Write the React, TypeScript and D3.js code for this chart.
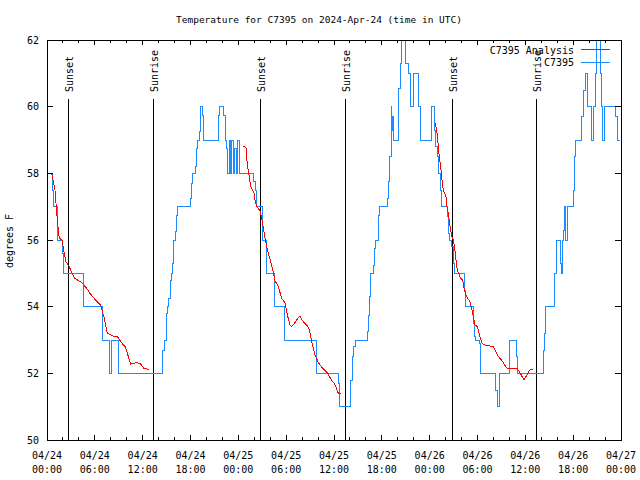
import React from 'react';
import * as d3 from 'd3';

const TITLE = 'Temperature for C7395 on 2024-Apr-24 (time in UTC)';
const Y_LABEL = 'degrees F';
const LEGEND_ANALYSIS = 'C7395 Analysis';
const LEGEND_OBS = 'C7395';

const X_TICK_HOURS = [0, 6, 12, 18, 24, 30, 36, 42, 48, 54, 60, 66, 72];
const X_TICK_DATES = ['04/24', '04/24', '04/24', '04/24', '04/25', '04/25', '04/25', '04/25', '04/26', '04/26', '04/26', '04/26', '04/27'];
const X_TICK_TIMES = ['00:00', '06:00', '12:00', '18:00', '00:00', '06:00', '12:00', '18:00', '00:00', '06:00', '12:00', '18:00', '00:00'];
const X_MINOR_HOURS = [2, 4, 8, 10, 14, 16, 20, 22, 26, 28, 32, 34, 38, 40, 44, 46, 50, 52, 56, 58, 62, 64, 68, 70];
const Y_TICKS = [50, 52, 54, 56, 58, 60, 62];

const SUNSET_HOURS = [2.67, 26.72, 50.82];
const SUNRISE_HOURS = [13.34, 37.42, 61.36];

// Observations (C7395): [hours since 04/24 00:00 UTC, degrees F], step changes
const OBS: [number, number][] = [
  [0, 58], [0.67, 57.5], [0.8, 57], [1.3, 56], [1.9, 55.6], [2.05, 55], [4.56, 54], [6.98, 53],
  [7.9, 52], [8.15, 53], [9.0, 52], [14.46, 52.7], [14.72, 53], [15.0, 53.8], [15.09, 54],
  [15.26, 54.25], [15.43, 54.8], [15.6, 55], [15.76, 55.3], [15.93, 56], [16.1, 56.25],
  [16.26, 56.75], [16.43, 57], [17.94, 57.25], [18.1, 57.7], [18.27, 58], [18.61, 58.2],
  [18.77, 58.75], [18.94, 59], [19.11, 59.25], [19.2, 60], [19.53, 59.75], [19.62, 59],
  [21.49, 59.75], [21.62, 60], [22.2, 59.75], [22.37, 59], [22.55, 58.75], [22.7, 58],
  [22.85, 59], [23.05, 58], [23.2, 59], [23.4, 58], [23.55, 58.75], [23.75, 58], [23.95, 59],
  [24.1, 58], [25.96, 57.75], [26.13, 57.5], [26.3, 57], [26.97, 56], [27.55, 55], [28.56, 54],
  [29.73, 53], [33.83, 52], [36.55, 51.7], [36.67, 51], [38.13, 51.8], [38.3, 52.5], [38.5, 52.8],
  [38.68, 53], [40.18, 53.25], [40.3, 53.75], [40.43, 54.3], [40.55, 55], [40.93, 55.25],
  [41.05, 55.75], [41.18, 56], [41.56, 56.75], [41.68, 57], [42.69, 57.25], [42.86, 57.75],
  [43.02, 58.5], [43.15, 60], [43.27, 59.3], [43.36, 59.7], [43.44, 59], [44.07, 60.55],
  [44.28, 61.3], [44.45, 62], [44.95, 61.3], [45.33, 61], [45.63, 60], [45.95, 61], [46.62, 60],
  [46.87, 59], [48.25, 60], [48.6, 59.3], [48.67, 59], [48.79, 58.8], [48.96, 58.5], [49.09, 58],
  [49.3, 57.5], [49.46, 57], [50.22, 56.7], [50.34, 56.2], [50.55, 56], [50.76, 55.8],
  [50.97, 55.3], [51.13, 55], [52.31, 54.5], [52.48, 54], [53.48, 53.5], [53.65, 53.1],
  [53.81, 53], [54.23, 52.9], [54.4, 52], [56.32, 51.5], [56.49, 51], [56.74, 52], [58.0, 53],
  [58.92, 52.5], [59.04, 52], [62.26, 52.7], [62.43, 53.2], [62.59, 54], [63.6, 54.3],
  [63.72, 55], [63.85, 55.3], [63.93, 56], [64.35, 55.3], [64.48, 55], [64.6, 56], [64.77, 56.3],
  [64.94, 57], [65.1, 56], [65.27, 57], [66.02, 57.5], [66.19, 58.5], [66.27, 59], [67.07, 59.7],
  [67.28, 60.5], [67.49, 61], [67.78, 60], [68.24, 59], [68.53, 60], [68.78, 61], [68.95, 62],
  [69.37, 61], [69.53, 60], [69.7, 59], [69.99, 60], [71.37, 59.7], [71.54, 59], [71.87, 59],
];

// Analysis (C7395 Analysis), three nightly segments
const ANALYSIS_DAY1: [number, number][] = [
  [0.59, 58.0], [1.0, 57.5], [1.21, 56.85], [1.42, 56.3], [1.55, 56.05], [1.88, 56.0], [2.13, 55.65],
  [2.38, 55.35], [2.8, 55.2], [3.09, 55.02], [3.51, 54.85], [4.35, 54.72], [4.98, 54.55], [5.39, 54.4],
  [6.02, 54.22], [6.73, 54.05], [7.19, 53.65], [7.57, 53.2], [8.32, 53.12], [8.82, 53.1], [9.49, 52.88],
  [9.83, 52.8], [10.33, 52.4], [10.49, 52.28], [11.25, 52.32], [11.67, 52.3], [12.17, 52.15], [12.8, 52.12],
];
const ANALYSIS_DAY2: [number, number][] = [
  [24.63, 58.82], [24.96, 58.78], [25.13, 58.25], [25.3, 58.0], [25.55, 57.6], [25.97, 57.4],
  [26.13, 57.15], [26.3, 57.0], [26.72, 56.88], [26.97, 56.6], [27.35, 56.05], [27.64, 55.7],
  [28.18, 55.25], [28.6, 54.78], [29.02, 54.6], [29.44, 54.25], [29.85, 54.12], [30.15, 53.75],
  [30.48, 53.45], [30.69, 53.4], [31.11, 53.52], [31.53, 53.68], [31.74, 53.7], [32.15, 53.55],
  [32.57, 53.45], [32.9, 53.32], [33.24, 52.9], [33.62, 52.55], [34.04, 52.32], [34.58, 52.15],
  [35.16, 52.02], [35.67, 51.8], [36.09, 51.68], [36.42, 51.48], [36.54, 51.4], [36.84, 51.4],
];
const ANALYSIS_DAY3: [number, number][] = [
  [48.67, 59.5], [48.88, 59.3], [49.09, 58.8], [49.21, 58.5], [49.38, 58.2], [49.51, 57.9],
  [49.63, 57.6], [49.8, 57.45], [50.05, 57.3], [50.13, 57.05], [50.34, 56.8], [50.46, 56.55],
  [50.64, 56.3], [50.76, 56.1], [50.97, 56.0], [51.14, 55.75], [51.3, 55.4], [51.47, 55.1],
  [51.72, 54.95], [51.89, 54.85], [52.14, 54.8], [52.31, 54.55], [52.56, 54.35], [52.85, 54.22],
  [53.06, 54.15], [53.27, 53.95], [53.48, 53.7], [53.69, 53.45], [53.98, 53.4], [54.31, 53.1],
  [54.57, 52.9], [54.98, 52.85], [55.99, 52.8], [56.24, 52.68], [56.49, 52.55], [56.82, 52.45],
  [57.16, 52.35], [57.49, 52.22], [57.74, 52.14], [58.92, 52.16], [59.25, 52.05], [59.84, 51.8],
  [60.42, 52.05], [60.68, 52.12], [60.93, 52.12],
];

const W = 640;
const H = 480;
const M = { left: 47, right: 621, top: 40, bottom: 440 };
const FONT = '"DejaVu Sans Mono", monospace';
const BLUE = '#1a8cff';
const RED = '#ff0000';

export default function App() {
  const x = d3.scaleLinear().domain([0, 72]).range([M.left, M.right]);
  const y = d3.scaleLinear().domain([50, 62]).range([M.bottom, M.top]);

  const obsLine = d3
    .line<[number, number]>()
    .x((d) => x(d[0]))
    .y((d) => y(d[1]))
    .curve(d3.curveStepAfter);
  const anLine = d3
    .line<[number, number]>()
    .x((d) => x(d[0]))
    .y((d) => y(d[1]));

  const sunLineTop = 99;
  const textStyle = { fontFamily: FONT, fontSize: 10, fill: '#000' } as const;

  return (
    <svg
      width={W}
      height={H}
      style={{ position: 'absolute', left: 0, top: 0, background: '#fff' }}
    >
      <rect x={0} y={0} width={W} height={H} fill="#fff" />
      <defs>
        <clipPath id="plotclip">
          <rect x={M.left} y={M.top - 1} width={M.right - M.left} height={M.bottom - M.top + 2} />
        </clipPath>
      </defs>

      <text x={319} y={23} textAnchor="middle" style={{ ...textStyle, fontSize: 9.5 }}>
        {TITLE}
      </text>

      {/* sun lines */}
      {SUNSET_HOURS.map((h, i) => (
        <g key={'ss' + i}>
          <line x1={x(h)} x2={x(h)} y1={sunLineTop} y2={M.bottom} stroke="#000" strokeWidth={1} shapeRendering="crispEdges" />
          <text
            transform={`translate(${x(h) + 5},92) rotate(-90)`}
            textAnchor="start"
            style={textStyle}
          >
            Sunset
          </text>
        </g>
      ))}
      {SUNRISE_HOURS.map((h, i) => (
        <g key={'sr' + i}>
          <line x1={x(h)} x2={x(h)} y1={sunLineTop} y2={M.bottom} stroke="#000" strokeWidth={1} shapeRendering="crispEdges" />
          <text
            transform={`translate(${x(h) + 5},92) rotate(-90)`}
            textAnchor="start"
            style={textStyle}
          >
            Sunrise
          </text>
        </g>
      ))}

      {/* data */}
      <g clipPath="url(#plotclip)">
        <path d={obsLine(OBS) || ''} fill="none" stroke={BLUE} strokeWidth={1} shapeRendering="crispEdges" />
        {[ANALYSIS_DAY1, ANALYSIS_DAY2, ANALYSIS_DAY3].map((seg, i) => (
          <path key={i} d={anLine(seg) || ''} fill="none" stroke={RED} strokeWidth={1} shapeRendering="crispEdges" />
        ))}
      </g>

      {/* border */}
      <rect
        x={M.left}
        y={M.top}
        width={M.right - M.left}
        height={M.bottom - M.top}
        fill="none"
        stroke="#000"
        strokeWidth={1}
        shapeRendering="crispEdges"
      />

      {/* y ticks */}
      {Y_TICKS.map((v) => (
        <g key={'y' + v} shapeRendering="crispEdges">
          <line x1={M.left} x2={M.left + 6} y1={y(v)} y2={y(v)} stroke="#000" />
          <line x1={M.right} x2={M.right - 6} y1={y(v)} y2={y(v)} stroke="#000" />
          <text x={39} y={y(v) + 3.5} textAnchor="end" style={textStyle}>
            {v}
          </text>
        </g>
      ))}

      {/* x ticks */}
      {X_TICK_HOURS.map((h, i) => (
        <g key={'x' + h} shapeRendering="crispEdges">
          <line x1={x(h)} x2={x(h)} y1={M.bottom} y2={M.bottom - 5} stroke="#000" />
          <line x1={x(h)} x2={x(h)} y1={M.top} y2={M.top + 5} stroke="#000" />
          <text x={x(h)} y={458.5} textAnchor="middle" style={textStyle}>
            {X_TICK_DATES[i]}
          </text>
          <text x={x(h)} y={472.5} textAnchor="middle" style={textStyle}>
            {X_TICK_TIMES[i]}
          </text>
        </g>
      ))}
      {X_MINOR_HOURS.map((h) => (
        <g key={'xm' + h} shapeRendering="crispEdges">
          <line x1={x(h)} x2={x(h)} y1={M.bottom} y2={M.bottom - 3} stroke="#000" />
          <line x1={x(h)} x2={x(h)} y1={M.top} y2={M.top + 3} stroke="#000" />
        </g>
      ))}

      <text transform="translate(13,241) rotate(-90)" textAnchor="middle" style={textStyle}>
        {Y_LABEL}
      </text>

      {/* legend */}
      <text x={574} y={53.5} textAnchor="end" style={textStyle}>
        {LEGEND_ANALYSIS}
      </text>
      <line x1={581} x2={610} y1={49.5} y2={49.5} stroke={RED} strokeWidth={1} shapeRendering="crispEdges" />
      <text x={574} y={66} textAnchor="end" style={textStyle}>
        {LEGEND_OBS}
      </text>
      <line x1={581} x2={610} y1={62.5} y2={62.5} stroke={BLUE} strokeWidth={1} shapeRendering="crispEdges" />
    </svg>
  );
}
